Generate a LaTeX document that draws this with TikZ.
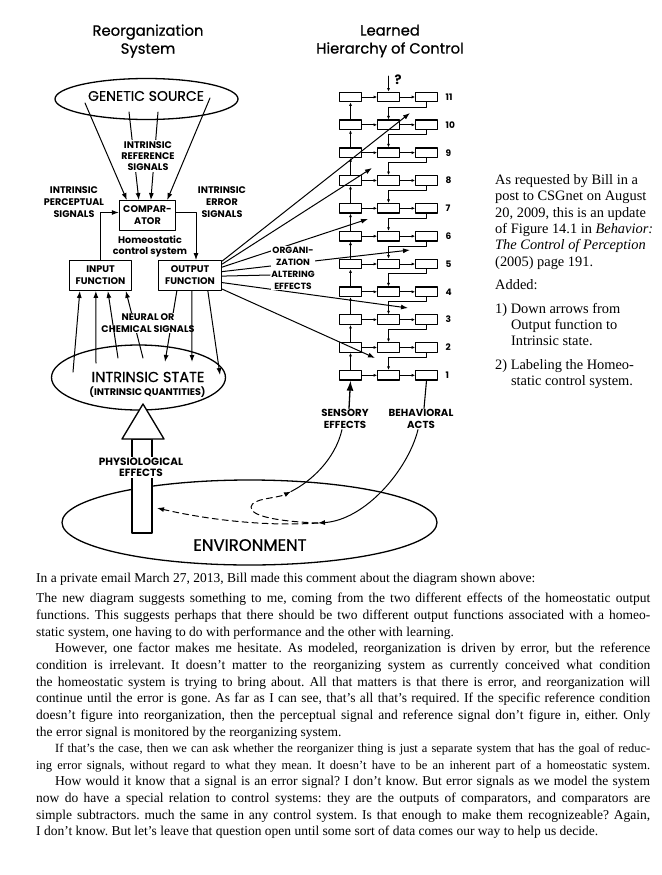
\documentclass[tikz,border=0pt]{standalone}
\usepackage{fontspec}
\setmainfont{Liberation Serif}
\newfontfamily\agfont{Poppins}
\newfontfamily\agmed{Poppins}[FakeBold=0.7]
\usetikzlibrary{arrows.meta,calc,shapes.geometric}

\begin{document}
\begin{tikzpicture}[
  x=1pt, y=-1pt,
  line cap=round,
  line join=round,
  lbl/.style={align=center,inner sep=1pt,
    font=\agfont\bfseries\fontsize{9.6}{11.8}\selectfont},
  biglbl/.style={align=center,inner sep=1pt,
    font=\agmed\fontsize{14}{15}\selectfont},
  headlbl/.style={align=center,inner sep=1pt,
    font=\agmed\fontsize{14.8}{18}\selectfont},
  numlbl/.style={anchor=west,inner sep=0pt,
    font=\agfont\bfseries\fontsize{9}{10}\selectfont},
  fnbox/.style={lbl,draw,line width=1.3pt,minimum height=29.5pt},
  hbox/.style={draw,line width=1.2pt,minimum width=21.5pt,minimum height=9.5pt,inner sep=0pt},
  ell/.style={draw,ellipse,line width=1.3pt,inner sep=0pt},
  arr/.style={line width=1pt,-{Latex[length=7pt,width=5pt]}},
  harr/.style={line width=0.7pt,-{Latex[length=3.5pt,width=3pt]}},
  bigarr/.style={line width=1.3pt,-{Latex[length=10pt,width=7pt]}},
  flow/.style={line width=1pt,dash pattern=on 6pt off 4pt},
  note/.style={anchor=north west,align=left,inner sep=0pt,
    font=\fontsize{14.4}{16.3}\selectfont},
  body/.style={inner sep=0pt,text width=614pt,align=justify,
    font=\fontsize{13.5}{16.65}\selectfont\frenchspacing}
]
\useasboundingbox (0,0) rectangle (661,875);

% ------------------------------------------------------------------
% Titles
% ------------------------------------------------------------------
\node[headlbl] (reorgtitle) at (148,41) {Reorganization\\System};
\node[headlbl] (hiertitle) at (390,41) {Learned\\Hierarchy of Control};

% ------------------------------------------------------------------
% Reorganization system
% ------------------------------------------------------------------
\node[ell,minimum width=183pt,minimum height=41pt] (gen) at (146.5,99) {};
\node[biglbl] (gentxt) at (146,96) {GENETIC SOURCE};

\coordinate (g1) at (85,103);
\coordinate (g2) at (129,112);
\coordinate (g3) at (158,112);
\coordinate (g4) at (210,98);

\node[fnbox,minimum width=56pt] (comp) at (147.5,215.5) {COMPAR-\\ATOR};

\draw[arr] (g1) -- ([xshift=8pt]comp.north west);
\draw[arr] (g2) -- ([xshift=20pt]comp.north west);
\draw[arr] (g3) -- ([xshift=32pt]comp.north west);
\draw[arr] (g4) -- ([xshift=-9pt]comp.north east);
\node[lbl,fill=white,font=\agfont\bfseries\fontsize{9.6}{11.2}\selectfont]
  (refsig) at (148,156) {INTRINSIC\\REFERENCE\\SIGNALS};

\node[lbl] (perclbl) at (74,202) {INTRINSIC\\PERCEPTUAL\\SIGNALS};
\node[lbl] (errlbl) at (222,202) {INTRINSIC\\ERROR\\SIGNALS};
\node[lbl,font=\agfont\bfseries\fontsize{9.6}{11}\selectfont]
  (homeo) at (150,246) {Homeostatic\\control system};

\node[fnbox,minimum width=62pt] (infn) at (100.5,275.5) {INPUT\\FUNCTION};
\node[fnbox,minimum width=63pt] (outfn) at (190,275.5) {OUTPUT\\FUNCTION};

\draw[arr] (infn.north) |- ([yshift=3pt]comp.west);
\draw[arr] ([yshift=3pt]comp.east) -| ([xshift=6pt]outfn.north);

% Intrinsic state and the neural or chemical signals
\node[ell,minimum width=174pt,minimum height=65pt] (istate) at (138.5,377.5) {};
\node[biglbl,font=\agmed\fontsize{14.5}{15}\selectfont] (istxt) at (148,377) {INTRINSIC STATE};
\node[lbl] (isqty) at (147.5,392) {(INTRINSIC QUANTITIES)};

\coordinate (s1) at (73,372);
\coordinate (s2) at (96,363);
\coordinate (s3) at (118,358);
\coordinate (s4) at (143,358);
\coordinate (t1) at (165,362);
\coordinate (t2) at (192,362);
\coordinate (t3) at (220,375);

\draw[arr] (s4) -- ([xshift=57pt]infn.south west);
\draw[arr] ([xshift=19pt]outfn.south west) -- (t1);
\node[lbl,fill=white] (neural) at (148,323) {NEURAL OR\\CHEMICAL SIGNALS};
\draw[arr] (s1) -- ([xshift=11pt]infn.south west);
\draw[arr] (s2) -- ([xshift=27pt]infn.south west);
\draw[arr] (s3) -- ([xshift=39pt]infn.south west);
\draw[arr] ([xshift=34pt]outfn.south west) -- (t2);
\draw[arr] ([xshift=50pt]outfn.south west) -- (t3);

% ------------------------------------------------------------------
% Environment and physiological effects
% ------------------------------------------------------------------
\node[ell,minimum width=375pt,minimum height=85pt] (env) at (249.5,522.5) {};
\node[biglbl,font=\agmed\fontsize{16.5}{18}\selectfont] (envtxt) at (250,545) {ENVIRONMENT};

\draw[line width=1.3pt,fill=white] (132,439) rectangle (152,533);
\draw[line width=1.3pt,fill=white] (143,404) -- (164,439) -- (122,439) -- cycle;
\node[lbl,fill=white,font=\agfont\bfseries\fontsize{10.5}{11.5}\selectfont]
  (physio) at (141,467.5) {PHYSIOLOGICAL\\EFFECTS};

% ------------------------------------------------------------------
% Learned hierarchy
% ------------------------------------------------------------------
\foreach \k in {1,...,11} {
  \pgfmathsetmacro\yy{375.3-(\k-1)*27.83}
  \node[hbox] (L\k) at (350.5,\yy) {};
  \node[hbox] (M\k) at (388.5,\yy) {};
  \node[hbox] (R\k) at (426.5,\yy) {};
  \node[numlbl] (N\k) at (445.5,\yy) {\k};
  \draw[harr] (L\k) -- (M\k);
  \draw[harr] (M\k) -- (R\k);
}
\foreach \k [evaluate=\k as \j using int(\k+1)] in {1,...,10} {
  \draw[harr] (L\k) -- (L\j);
  \draw[harr] (R\j.south) -- ++(0,4.5) -| (M\k.north);
}

\coordinate (qtop) at (388.5,76);
\draw[harr] (qtop) -- (M11.north);
\node[lbl,font=\agfont\bfseries\fontsize{13}{14}\selectfont]
  (qmark) at (398,80) {?};

\node[lbl,font=\agfont\bfseries\fontsize{10.2}{11.5}\selectfont]
  (sens) at (345,419) {SENSORY\\EFFECTS};
\node[lbl,font=\agfont\bfseries\fontsize{10.2}{11.5}\selectfont]
  (behav) at (421,419) {BEHAVIORAL\\ACTS};
\draw[bigarr] ([xshift=4pt]sens.north) -- (L1.south);
\draw[line width=1.1pt] ([xshift=3pt]behav.north) -- (R1.south);

% Organization altering effects
\coordinate (oe1) at (410,113);
\coordinate (oe2) at (372,168);
\coordinate (oe3) at (368,219);
\coordinate (oe4) at (410,250);
\coordinate (oe5) at (408,308);
\coordinate (oe6) at (375,358);
\coordinate (altend) at (270,275);

\draw[arr] ([yshift=-1pt]outfn.north east) -- (oe1);
\draw[arr] ([yshift=-4pt]outfn.north east) -- (oe2);
\draw[arr] ([yshift=-7pt]outfn.north east) -- (oe3);
\draw[arr] ([yshift=-11.5pt]outfn.north east) -- (oe4);
\draw[line width=1pt] ([yshift=-16pt]outfn.north east) -- (altend);
\draw[arr] ([yshift=-22.5pt]outfn.north east) -- (oe5);
\draw[arr] ([yshift=-29pt]outfn.north east) -- (oe6);
\node[lbl,fill=white,inner sep=0.5pt,font=\agfont\bfseries\fontsize{9}{12}\selectfont]
  (orgtxt) at (293,268) {ORGANI-\\ZATION\\ALTERING\\EFFECTS};

% ------------------------------------------------------------------
% Feedback through the environment
% ------------------------------------------------------------------
\coordinate (sj) at (291,491.5);
\coordinate (bt) at (318,523);
\coordinate (pt) at (157,508);

\draw[arr] ([xshift=-3pt]behav.south) .. controls (408,470) and (365,520) .. (bt);
\draw[line width=1pt] (sj) .. controls (310,482) and (335,460) .. ([xshift=-3pt]sens.south);
\draw[flow,-{Latex[length=7pt,width=5pt]}] (bt) .. controls (290,522) and (250,518) .. (251,507)
  .. controls (252,498) and (277,498.5) .. (sj);
\draw[flow,-{Latex[length=7pt,width=5pt]}] (bt) .. controls (260,527) and (200,518) .. (pt);

% ------------------------------------------------------------------
% Texts
% ------------------------------------------------------------------
\node[note] (note) at (495,174.5) {As requested by Bill in a\\
  post to CSGnet on August\\
  20, 2009, this is an update\\
  of Figure 14.1 in \emph{Behavior:}\\
  \emph{The Control of Perception}\\
  (2005) page 191.\\[7pt]
  Added:\\[7.5pt]
  1) Down arrows from\\
  \hspace*{1.1em}Output function to\\
  \hspace*{1.1em}Intrinsic state.\\[7.5pt]
  2) Labeling the Homeo-\\
  \hspace*{1.1em}static control system.};

\node[body,anchor=base west] (intro) at (36,582.5)
  {In a private email March 27, 2013, Bill made this comment about the diagram shown above:};

\node[body,anchor=north west] (bodytxt) at ([yshift=-7.5pt]intro.south west) {%
  \setlength{\spaceskip}{0.25em plus 0.2em minus 0.1em}%
  The new diagram suggests something to me, coming from the two different effects of the homeostatic output\linebreak
  functions. This suggests perhaps that there should be two different output functions associated with a homeo-\linebreak
  static system, one having to do with performance and the other with learning.\par
  \hspace*{19pt}However, one factor makes me hesitate. As modeled, reorganization is driven by error, but the reference\linebreak
  condition is irrelevant. It doesn't matter to the reorganizing system as currently conceived what condition\linebreak
  the homeostatic system is trying to bring about. All that matters is that there is error, and reorganization will\linebreak
  continue until the error is gone. As far as I can see, that's all that's required. If the specific reference condition\linebreak
  doesn't figure into reorganization, then the perceptual signal and reference signal don't figure in, either. Only\linebreak
  the error signal is monitored by the reorganizing system.\par
  {\fontsize{12.5}{16.65}\selectfont\setlength{\spaceskip}{0.25em plus 0.2em minus 0.1em}%
  \setlength{\parfillskip}{0pt}%
  \hspace*{19pt}If that's the case, then we can ask whether the reorganizer thing is just a separate system that has the goal of reduc-\linebreak
  ing error signals, without regard to what they mean. It doesn't have to be an inherent part of a homeostatic system.\par}
  \hspace*{19pt}How would it know that a signal is an error signal? I don't know. But error signals as we model the system\linebreak
  now do have a special relation to control systems: they are the outputs of comparators, and comparators are\linebreak
  simple subtractors. much the same in any control system. Is that enough to make them recognizeable? Again,\linebreak
  I don't know. But let's leave that question open until some sort of data comes our way to help us decide.};

\end{tikzpicture}
\end{document}
